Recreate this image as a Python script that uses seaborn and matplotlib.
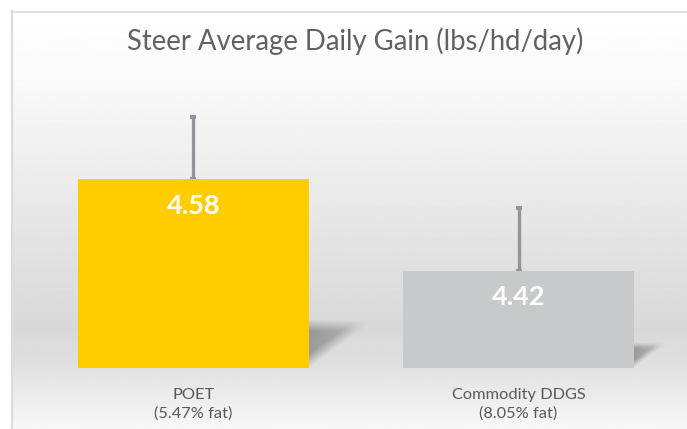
import numpy as np
import pandas as pd
import matplotlib
matplotlib.use("Agg")
import matplotlib.pyplot as plt
import seaborn as sns

# data
categories = ["POET\n(5.47% fat)", "Commodity DDGS\n(8.05% fat)"]
values = [4.58, 4.42]
errors = [0.11, 0.11]
colors = ["#FFCD00", "#C8C9CB"]
title = "Steer Average Daily Gain (lbs/hd/day)"

df = pd.DataFrame({"group": categories, "adg": values})

sns.set_theme(style="white")
plt.rcParams["font.family"] = ["Lato", "DejaVu Sans"]

W, H = 687, 429
fig = plt.figure(figsize=(W / 100, H / 100), dpi=100)

# background with vertical gradient + frame
bg = fig.add_axes([0, 0, 1, 1])
bg.set_xlim(0, W); bg.set_ylim(H, 0); bg.axis("off")
stops_y = [11, 80, 200, 330, 367, 429]
stops_v = [255, 250, 233, 216, 225, 248]
yy = np.arange(11, H + 1)
g = np.interp(yy, stops_y, stops_v) / 255.0
img = np.repeat(g[:, None], 2, axis=1)
bg.imshow(img, cmap="gray", vmin=0, vmax=1, extent=[11, W, H, 11], aspect="auto", interpolation="bilinear")
bg.plot([11.5, 11.5], [11, H], color="#dcdcdc", lw=1.6)
bg.plot([11, W], [11.5, 11.5], color="#dcdcdc", lw=1.2)

# main axes
ymin = 4.25
px_per_unit = 570
base_px, top_px = 367.5, 90
ax = fig.add_axes([30 / W, (H - base_px) / H, 652 / W, (base_px - top_px) / H])
ax.patch.set_alpha(0)

sns.barplot(data=df, x="group", y="adg", hue="group", palette=colors,
            width=0.71, saturation=1, legend=False, ax=ax, zorder=2,
            edgecolor="none", linewidth=0)
ax.errorbar(x=range(len(values)), y=values, yerr=[[0] * len(errors), errors],
            fmt="none", ecolor="#939598", elinewidth=2.4, capsize=2.3, capthick=3, zorder=1)

ylim = (ymin, ymin + (base_px - top_px) / px_per_unit)

# soft perspective shadows to the right of each bar
nu, nv = 120, 40
u = np.linspace(0, 1.1, nu)[None, :]
v = np.linspace(1, 0, nv)[:, None]  # row 0 = top of shadow
umax = 0.03 + 0.97 * v
for p in ax.patches:
    x1 = p.get_x() + p.get_width()
    h = p.get_height() - ymin
    sh, dx = 0.25 * h, 0.62 * h
    a = np.clip((umax - u) / 0.3, 0, 1) * np.clip((1 - v) / 0.25, 0, 1) * (1 - 0.55 * np.clip(u, 0, 1))
    fade = np.zeros((nv, nu, 4))
    fade[..., 3] = 0.30 * a
    ax.imshow(fade, extent=[x1, x1 + 1.1 * dx, ymin, ymin + sh], origin="upper", aspect="auto",
              interpolation="bilinear", zorder=0.5)

# value labels
for i, v_ in enumerate(values):
    ax.annotate(f"{v_:.2f}", xy=(i, v_), xytext=(0, -19), textcoords="offset points",
                ha="center", va="center", color="white", fontsize=19.5, fontweight="bold")

ax.set_xlim(-0.503, 1.503)
ax.set_ylim(*ylim)
ax.set_xlabel(""); ax.set_ylabel("")
ax.set_yticks([])
ax.tick_params(axis="x", length=0, pad=14.5, labelsize=11.8, labelcolor="#595959")
for lab in ax.get_xticklabels():
    lab.set_linespacing(1.45)
sns.despine(ax=ax, left=True, bottom=True)

fig.text(355 / W, (H - 41.5) / H, title, ha="center", va="center",
         fontsize=19.8, color="#626262")

fig.savefig("out.png", dpi=100)
